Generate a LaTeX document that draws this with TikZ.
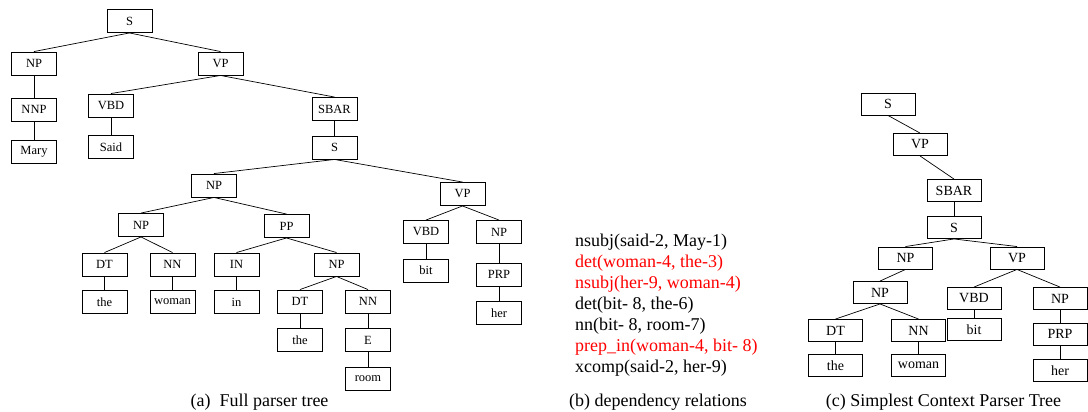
\documentclass[tikz,border=0pt]{standalone}
\usepackage{fontspec}
\setmainfont{Liberation Serif}

\tikzset{
    tag/.style={draw, line width=0.9pt, minimum width=45pt, minimum height=23pt,
        inner sep=0pt, font=\fontsize{12.5}{12.5}\selectfont},
    bigtag/.style={tag, minimum width=54pt, minimum height=22pt,
        font=\fontsize{14}{14}\selectfont},
    branch/.style={line width=0.7pt},
    deprel/.style={anchor=base west, inner sep=0pt, font=\fontsize{18}{18}\selectfont},
    caption/.style={anchor=base, inner sep=0pt, font=\fontsize{18}{18}\selectfont},
}

\begin{document}
\begin{tikzpicture}[x=1pt, y=-1pt]
    \useasboundingbox (0,0) rectangle (1088,412);

    % (a) Full parser tree
    \node[tag] (a-s)     at (129.5, 21)  {S};
    \node[tag] (a-np)    at (34, 63.5)   {NP};
    \node[tag] (a-vp)    at (220.5, 63.5) {VP};
    \node[tag] (a-nnp)   at (34, 109.5)  {NNP};
    \node[tag] (a-mary)  at (34, 151.5)  {Mary};
    \node[tag] (a-vbd)   at (111, 105.5) {VBD};
    \node[tag] (a-said)  at (111, 147)   {Said};
    \node[tag] (a-sbar)  at (334.5, 109) {SBAR};
    \node[tag] (a-s2)    at (334.5, 147.5) {S};
    \node[tag] (a-np2)   at (214, 185.5) {NP};
    \node[tag] (a-vp2)   at (462.5, 194) {VP};

    % subject noun phrase
    \node[tag] (a-np3)   at (141, 225)   {NP};
    \node[tag] (a-pp)    at (286.5, 226) {PP};
    \node[tag] (a-dt)    at (104.5, 264.5) {DT};
    \node[tag] (a-nn)    at (172.5, 264.5) {NN};
    \node[tag] (a-in)    at (236.5, 264.5) {IN};
    \node[tag] (a-np4)   at (336.5, 264.5) {NP};
    \node[tag] (a-the)   at (104.5, 302) {the};
    \node[tag] (a-woman) at (172.5, 302) {woman};
    \node[tag] (a-inw)   at (236.5, 302) {in};
    \node[tag] (a-dt2)   at (300, 301.5) {DT};
    \node[tag] (a-nn2)   at (368, 301.5) {NN};
    \node[tag] (a-the2)  at (300, 340)   {the};
    \node[tag] (a-e)     at (368, 340)   {E};
    \node[tag] (a-room)  at (368, 378.5) {room};

    % verb phrase
    \node[tag] (a-vbd2)  at (426, 232)   {VBD};
    \node[tag] (a-bit)   at (426, 270.5) {bit};
    \node[tag] (a-np5)   at (499, 232)   {NP};
    \node[tag] (a-prp)   at (499, 274.5) {PRP};
    \node[tag] (a-her)   at (499, 313)   {her};

    \foreach \p/\c in {a-s/a-np, a-s/a-vp, a-np/a-nnp, a-nnp/a-mary,
            a-vp/a-vbd, a-vbd/a-said, a-vp/a-sbar, a-sbar/a-s2,
            a-s2/a-np2, a-s2/a-vp2, a-np2/a-np3, a-np2/a-pp,
            a-np3/a-dt, a-np3/a-nn, a-dt/a-the, a-nn/a-woman,
            a-pp/a-in, a-pp/a-np4, a-in/a-inw, a-np4/a-dt2, a-np4/a-nn2,
            a-dt2/a-the2, a-nn2/a-e, a-e/a-room,
            a-vp2/a-vbd2, a-vp2/a-np5, a-vbd2/a-bit, a-np5/a-prp, a-prp/a-her} {
        \draw[branch] (\p.south) -- (\c.north);
    }

    \node[caption] (a-cap) at (259.5, 406) {(a)\ \ Full parser tree};

    % (b) dependency relations
    \foreach \rel/\col [count=\i] in {{nsubj(said-2, May-1)}/black,
            {det(woman-4, the-3)}/red,
            {nsubj(her-9, woman-4)}/red,
            {det(bit- 8, the-6)}/black,
            {nn(bit- 8, room-7)}/black,
            {prep\_in(woman-4, bit- 8)}/red,
            {xcomp(said-2, her-9)}/black} {
        \node[deprel, text=\col] (b-rel\i) at (575, 225 + 21*\i) {\rel};
    }

    \node[caption] (b-cap) at (658, 406) {(b) dependency relations};

    % (c) Simplest context parser tree
    \node[bigtag] (c-s)     at (888, 104)    {S};
    \node[bigtag] (c-vp)    at (920, 144.5)  {VP};
    \node[bigtag] (c-sbar)  at (954, 190.5)  {SBAR};
    \node[bigtag] (c-s2)    at (954, 227.5)  {S};
    \node[bigtag] (c-np)    at (905.5, 258)  {NP};
    \node[bigtag] (c-vp2)   at (1017, 258)   {VP};
    \node[bigtag] (c-np2)   at (880, 292.5)  {NP};
    \node[bigtag] (c-vbd)   at (974, 298.5)  {VBD};
    \node[bigtag] (c-np3)   at (1060, 298.5) {NP};
    \node[bigtag] (c-dt)    at (835.5, 330.5) {DT};
    \node[bigtag] (c-nn)    at (918.5, 330.5) {NN};
    \node[bigtag] (c-bit)   at (974, 329.5)  {bit};
    \node[bigtag] (c-prp)   at (1060, 334)   {PRP};
    \node[bigtag] (c-the)   at (835.5, 365.5) {the};
    \node[bigtag] (c-woman) at (918.5, 365.5) {woman};
    \node[bigtag] (c-her)   at (1060, 370.5) {her};

    \foreach \p/\c in {c-s/c-vp, c-vp/c-sbar, c-sbar/c-s2, c-s2/c-np, c-s2/c-vp2,
            c-np/c-np2, c-np2/c-dt, c-np2/c-nn, c-dt/c-the, c-nn/c-woman,
            c-vp2/c-vbd, c-vp2/c-np3, c-vbd/c-bit, c-np3/c-prp, c-prp/c-her} {
        \draw[branch] (\p.south) -- (\c.north);
    }

    \node[caption] (c-cap) at (943.5, 406) {(c) Simplest Context Parser Tree};
\end{tikzpicture}
\end{document}
